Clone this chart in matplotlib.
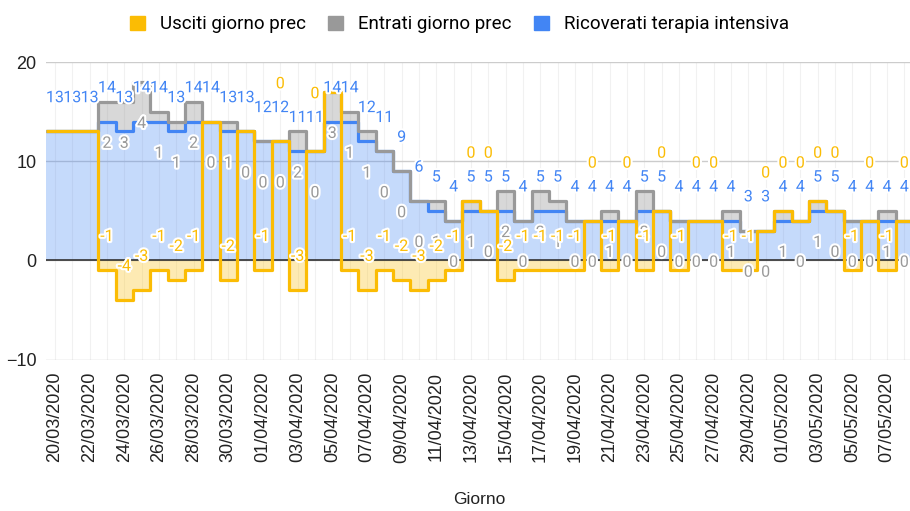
import numpy as np
import matplotlib
matplotlib.use("Agg")
from matplotlib import pyplot as plt
from matplotlib import patheffects as pe
from matplotlib.patches import Patch

# dati (20/03/2020 -> 08/05/2020)
giorni = ["20/03/2020", "21/03/2020", "22/03/2020", "23/03/2020", "24/03/2020",
          "25/03/2020", "26/03/2020", "27/03/2020", "28/03/2020", "29/03/2020",
          "30/03/2020", "31/03/2020", "01/04/2020", "02/04/2020", "03/04/2020",
          "04/04/2020", "05/04/2020", "06/04/2020", "07/04/2020", "08/04/2020",
          "09/04/2020", "10/04/2020", "11/04/2020", "12/04/2020", "13/04/2020",
          "14/04/2020", "15/04/2020", "16/04/2020", "17/04/2020", "18/04/2020",
          "19/04/2020", "20/04/2020", "21/04/2020", "22/04/2020", "23/04/2020",
          "24/04/2020", "25/04/2020", "26/04/2020", "27/04/2020", "28/04/2020",
          "29/04/2020", "30/04/2020", "01/05/2020", "02/05/2020", "03/05/2020",
          "04/05/2020", "05/05/2020", "06/05/2020", "07/05/2020", "08/05/2020"]

ricoverati = [13, 13, 13, 14, 13, 14, 14, 13, 14, 14,
              13, 13, 12, 12, 11, 11, 14, 14, 12, 11,
              9, 6, 5, 4, 5, 5, 5, 4, 5, 5,
              4, 4, 4, 4, 5, 5, 4, 4, 4, 4,
              3, 3, 4, 4, 5, 5, 4, 4, 4, 4]

entrati = [None, None, None, 2, 3, 4, 1, 1, 2, 0,
           1, 0, 0, 0, 2, 0, 3, 1, 1, 0,
           0, 0, 1, 0, 1, 0, 2, 0, 2, 1,
           0, 0, 1, 0, 2, 0, 0, 0, 0, 1,
           0, 0, 1, 0, 1, 0, 0, 0, 1, 0]

usciti = [None, None, None, -1, -4, -3, -1, -2, -1, 0,
          -2, 0, -1, 0, -3, 0, 0, -1, -3, -1,
          -2, -3, -2, -1, 0, 0, -2, -1, -1, -1,
          -1, 0, -1, 0, -1, 0, -1, 0, 0, -1,
          -1, 0, 0, 0, 0, 0, -1, 0, -1, 0]

GIALLO = "#fbbc04"
GRIGIO = "#999999"
BLU = "#4285f4"

n = len(giorni)
x = np.arange(n)
edges = np.arange(n + 1) - 0.5

blu = np.array(ricoverati, dtype=float)
gri = np.array([0 if v is None else v for v in entrati], dtype=float)
gia = np.array([0 if v is None else v for v in usciti], dtype=float)

# stacked come fa Google: grigio sopra il blu, i valori negativi gialli sotto lo zero
top_grigio = blu + gri
linea_gialla = np.where(gia < 0, gia, top_grigio)

fig = plt.figure(figsize=(9.1, 5.11), dpi=100)
ax = fig.add_axes([46.3 / 910, (511 - 359.5) / 511, 866.7 / 910, 297.5 / 511])

# righe verticali leggere
for xi in x:
    ax.axvline(xi, color="#f1f1f1", lw=0.8, zorder=0)

ax.stairs(blu, edges, baseline=0, fill=True, color=BLU, alpha=0.3, lw=0, zorder=1)
ax.stairs(top_grigio, edges, baseline=blu, fill=True, color=GRIGIO, alpha=0.38, lw=0, zorder=1)
ax.stairs(np.minimum(gia, 0), edges, baseline=0, fill=True, color=GIALLO, alpha=0.3, lw=0, zorder=1)

ax.axhline(0, color="#333333", lw=1.2, zorder=1.5)

ax.stairs(blu, edges, baseline=None, color=BLU, lw=2.3, joinstyle="round", zorder=2)
ax.stairs(top_grigio, edges, baseline=None, color=GRIGIO, lw=2.3, joinstyle="round", zorder=2.1)
ax.stairs(linea_gialla, edges, baseline=None, color=GIALLO, lw=2.3, joinstyle="round", zorder=2.2)

# etichette dei valori
halo = [pe.withStroke(linewidth=3, foreground="white")]
lab = dict(ha="center", va="center", fontsize=11.5, family="Roboto", zorder=5, path_effects=halo)
for i in range(n):
    ax.text(x[i], blu[i] + 3.4, str(ricoverati[i]), color=BLU, **lab)
    if entrati[i] is not None:
        ax.text(x[i], top_grigio[i] - 4.2, str(entrati[i]), color=GRIGIO, **lab)
    if usciti[i] is not None:
        if usciti[i] < 0:
            ax.text(x[i], usciti[i] + 3.4, str(usciti[i]), color=GIALLO, **lab)
        elif blu[i] + 5.8 < 18.5:
            ax.text(x[i], blu[i] + 5.8, str(usciti[i]), color=GIALLO, **lab)

ax.set_xlim(-0.5, n - 0.5)
ax.set_ylim(-10, 20)
ax.set_yticks([-10, 0, 10, 20])
ax.grid(axis="y", color="#cccccc", lw=1, zorder=0)
ax.set_axisbelow(True)
for s in ax.spines.values():
    s.set_visible(False)

ax.set_xticks(x[::2])
ax.set_xticklabels(giorni[::2], rotation=90, family="Liberation Sans", fontsize=13, color="#222222")
ax.tick_params(axis="x", length=0, pad=9)
ax.tick_params(axis="y", length=0, pad=7, labelsize=13, labelcolor="#222222")
for t in ax.get_yticklabels():
    t.set_family("Liberation Sans")

fig.text(479 / 910, 1 - 500 / 511, "Giorno", ha="center", va="center",
         family="Liberation Sans", fontsize=12.5, color="#222222")

handles = [Patch(color=GIALLO), Patch(color=GRIGIO), Patch(color=BLU)]
fig.legend(handles, ["Usciti giorno prec", "Entrati giorno prec", "Ricoverati terapia intensiva"],
           loc="upper center", bbox_to_anchor=(0.505, 1.003), ncol=3, frameon=False,
           prop={"family": "Roboto", "size": 13.5}, handlelength=0.8, handleheight=0.8,
           handletextpad=0.8, columnspacing=1.2)

fig.savefig("out.png", dpi=100)
